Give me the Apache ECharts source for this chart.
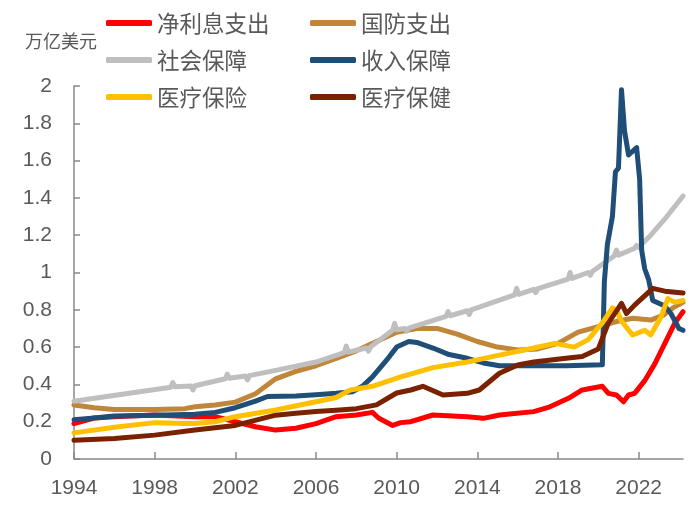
<!DOCTYPE html>
<html>
<head>
<meta charset="utf-8">
<script src="https://cdn.jsdelivr.net/npm/echarts@6/dist/echarts.min.js"></script>
<style>html,body{margin:0;padding:0;background:#fff}#c{width:700px;height:510px}</style>
</head>
<body>
<div id="c"></div>
<script>
const seriesNames = ['净利息支出', '国防支出', '社会保障', '收入保障', '医疗保险', '医疗保健'];
const unitLabel = '万亿美元';
const xTickYears = [1994, 1998, 2002, 2006, 2010, 2014, 2018, 2022];

const netInterest = [[1994,0.19],[1995,0.22],[1996,0.227],[1998,0.236],[2000,0.227],[2001,0.227],[2002,0.20],[2003,0.173],[2004,0.155],[2005,0.165],[2006,0.19],[2007,0.227],[2008,0.236],[2008.8,0.25],[2009.1,0.22],[2009.8,0.18],[2010.2,0.195],[2010.7,0.20],[2011.8,0.236],[2013.5,0.227],[2014.3,0.218],[2015.1,0.236],[2016.8,0.254],[2017.6,0.28],[2018.6,0.33],[2019.2,0.37],[2020.2,0.39],[2020.5,0.352],[2020.9,0.343],[2021.25,0.307],[2021.5,0.343],[2021.8,0.352],[2022.3,0.42],[2022.8,0.51],[2023.3,0.62],[2023.8,0.73],[2024.2,0.79]];
const defense = [[1994,0.29],[1995,0.275],[1996,0.265],[1998,0.265],[1999.5,0.27],[2000,0.28],[2001,0.29],[2002,0.305],[2003,0.35],[2004,0.43],[2005,0.47],[2006,0.50],[2007,0.54],[2008,0.58],[2009,0.63],[2010,0.68],[2011,0.70],[2012,0.70],[2013,0.67],[2014,0.63],[2015,0.60],[2016,0.585],[2017,0.59],[2018,0.62],[2019,0.68],[2020,0.71],[2021,0.74],[2021.7,0.755],[2022.6,0.745],[2023.2,0.77],[2023.7,0.81],[2024.2,0.84]];
const socialSecurity = [[1994,0.31],[1998.8,0.385],[1998.9,0.41],[1999.0,0.387],[1999.8,0.392],[1999.9,0.37],[2000.0,0.393],[2001.5,0.43],[2001.6,0.455],[2001.7,0.433],[2002.5,0.445],[2002.6,0.424],[2002.7,0.447],[2004,0.475],[2006,0.52],[2007.4,0.57],[2007.5,0.605],[2007.6,0.573],[2008.5,0.595],[2008.6,0.578],[2008.7,0.60],[2009.8,0.69],[2009.9,0.727],[2010.0,0.693],[2010.4,0.70],[2010.5,0.685],[2010.6,0.702],[2012.45,0.765],[2012.55,0.79],[2012.65,0.768],[2013.5,0.795],[2013.6,0.775],[2013.7,0.80],[2015.85,0.88],[2015.95,0.915],[2016.05,0.883],[2016.8,0.91],[2016.9,0.892],[2017.0,0.913],[2018.5,0.965],[2018.6,1.00],[2018.7,0.968],[2019.5,1.00],[2019.6,0.985],[2019.7,1.005],[2020.8,1.09],[2020.9,1.12],[2021.0,1.093],[2021.8,1.13],[2021.9,1.145],[2022.0,1.135],[2022.6,1.20],[2023.4,1.30],[2024.2,1.41]];
const incomeSecurity = [[1994,0.21],[1995,0.22],[1996,0.23],[1998,0.235],[2000,0.24],[2001,0.25],[2002,0.275],[2003,0.31],[2003.6,0.335],[2005,0.338],[2006,0.345],[2007,0.352],[2007.8,0.36],[2008.3,0.39],[2008.8,0.44],[2009.5,0.53],[2010,0.60],[2010.6,0.63],[2011,0.625],[2011.8,0.595],[2012.6,0.56],[2013.5,0.54],[2014.3,0.515],[2015.1,0.50],[2016.8,0.50],[2018.4,0.50],[2020.2,0.505],[2020.3,0.95],[2020.45,1.15],[2020.7,1.30],[2020.85,1.54],[2021.0,1.56],[2021.15,1.98],[2021.3,1.76],[2021.5,1.63],[2021.9,1.67],[2022.05,1.50],[2022.15,1.12],[2022.3,1.02],[2022.5,0.96],[2022.7,0.85],[2023.0,0.835],[2023.3,0.82],[2023.6,0.78],[2024.0,0.70],[2024.2,0.69]];
const medicare = [[1994,0.14],[1996,0.17],[1998,0.195],[1999.5,0.19],[2000,0.19],[2001,0.20],[2002,0.227],[2004,0.263],[2006,0.307],[2007,0.33],[2007.7,0.37],[2008.8,0.39],[2010.2,0.44],[2011.8,0.49],[2013.5,0.52],[2015.1,0.557],[2016.8,0.595],[2017.85,0.62],[2018.8,0.60],[2019.5,0.64],[2020.2,0.73],[2020.7,0.81],[2020.9,0.80],[2021.15,0.74],[2021.7,0.665],[2022.3,0.69],[2022.6,0.665],[2023.1,0.76],[2023.45,0.86],[2023.8,0.84],[2024.2,0.85]];
const health = [[1994,0.10],[1996,0.11],[1998,0.128],[2000,0.155],[2002,0.18],[2004,0.235],[2005,0.245],[2006,0.255],[2007,0.262],[2008,0.27],[2009,0.29],[2010,0.354],[2010.7,0.37],[2011.3,0.39],[2012.3,0.343],[2013.5,0.352],[2014.1,0.37],[2015.1,0.46],[2016,0.504],[2016.8,0.52],[2018.4,0.54],[2019.2,0.55],[2020.0,0.59],[2020.5,0.73],[2021.15,0.835],[2021.4,0.78],[2021.8,0.825],[2022.7,0.915],[2023.3,0.90],[2024.2,0.89]];

const seriesData = [netInterest, defense, socialSecurity, incomeSecurity, medicare, health];
const colors = ['#FF0000', '#C0863A', '#BFBFBF', '#1F4E79', '#FFC000', '#7A2100'];

const legendPos = [[106, 9], [310, 9], [106, 46], [310, 46], [106, 83], [310, 83]];
const legends = seriesNames.map((n, i) => ({
  data: [n],
  left: legendPos[i][0],
  top: legendPos[i][1],
  padding: 0,
  icon: 'roundRect',
  itemWidth: 46,
  itemHeight: 6,
  textStyle: { fontSize: 22.5, lineHeight: 28, color: '#595959', fontFamily: 'Noto Sans CJK SC' }
}));

const chart = echarts.init(document.getElementById('c'));
chart.setOption({
  animation: false,
  backgroundColor: '#fff',
  legend: legends,
  graphic: [{
    type: 'text', left: 25, top: 32,
    style: { text: unitLabel, fontSize: 18, fill: '#595959', fontFamily: 'Noto Sans CJK SC' }
  }],
  grid: { left: 74, right: 17, top: 86, bottom: 51, containLabel: false },
  xAxis: {
    type: 'value', min: 1994, max: 2024.2,
    splitLine: { show: false },
    axisLine: { lineStyle: { color: '#898989', width: 1.5 } },
    axisTick: { inside: true, length: 7, customValues: xTickYears, lineStyle: { color: '#898989', width: 1.5 } },
    axisLabel: { customValues: xTickYears, margin: 19, fontSize: 21, color: '#595959', fontFamily: 'Liberation Sans',
      formatter: v => String(Math.round(v)) }
  },
  yAxis: {
    type: 'value', min: 0, max: 2, interval: 0.2,
    splitLine: { show: false },
    axisLine: { show: true, lineStyle: { color: '#898989', width: 1.5 } },
    axisTick: { show: true, inside: true, length: 6, lineStyle: { color: '#898989', width: 1.5 } },
    axisLabel: { margin: 22, fontSize: 21, color: '#595959', fontFamily: 'Liberation Sans',
      formatter: v => String(Math.round(v * 10) / 10) }
  },
  series: seriesNames.map((n, i) => ({
    name: n, type: 'line', data: seriesData[i], showSymbol: false,
    color: colors[i],
    lineStyle: { width: 5, color: colors[i], cap: 'round', join: 'round' },
    itemStyle: { color: colors[i] }
  }))
});
</script>
</body>
</html>
